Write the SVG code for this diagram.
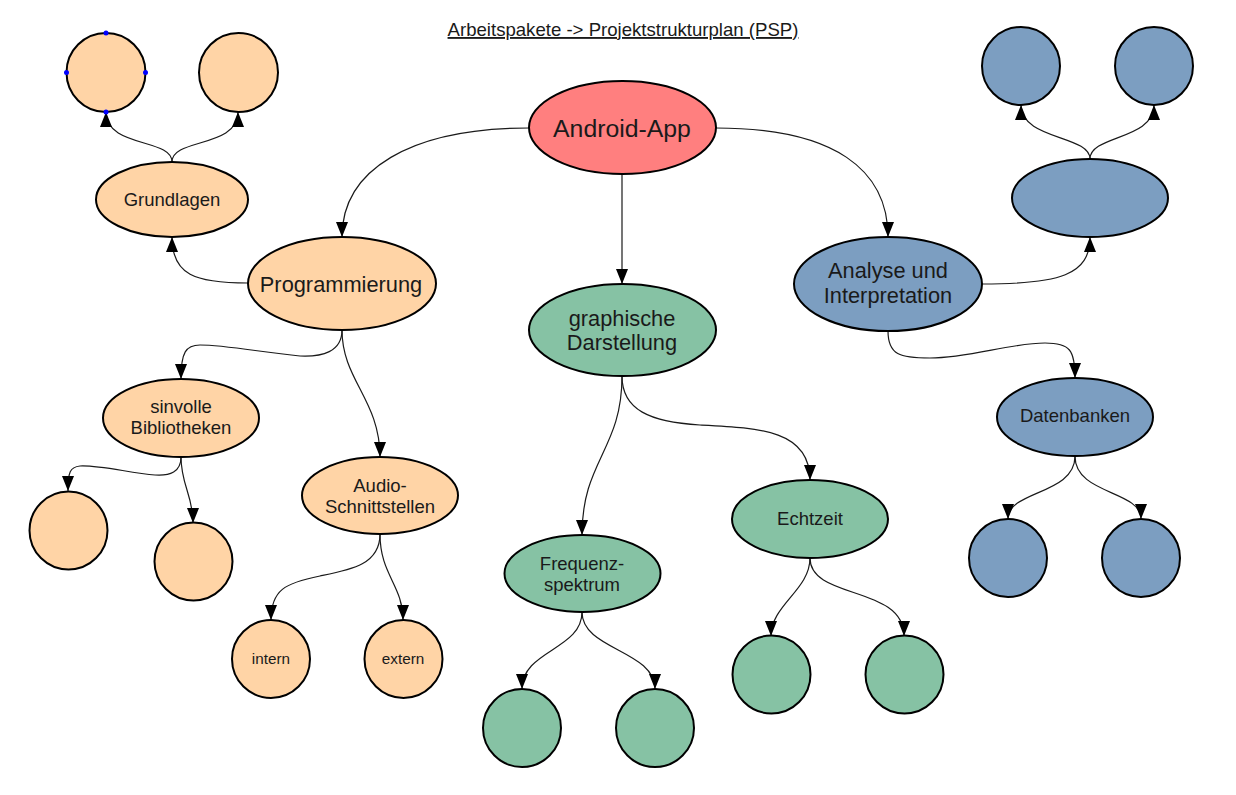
<svg xmlns="http://www.w3.org/2000/svg" width="1236" height="795" viewBox="0 0 1236 795">
<style>
.o{fill:#FFD4A6;stroke:#000;stroke-width:2}
.g{fill:#86C2A4;stroke:#000;stroke-width:2}
.b{fill:#7C9EC1;stroke:#000;stroke-width:2}
.r{fill:#FF7F7F;stroke:#000;stroke-width:2}
.c{fill:none;stroke:#1a1a1a;stroke-width:1.2;marker-end:url(#arr)}
text{font-family:"Liberation Sans",Arial,sans-serif;fill:#1a1a1a;text-anchor:middle}
.t1{font-size:24.8px}
.t2{font-size:21.8px}
.t3{font-size:18.5px}
.t4{font-size:15.3px}
.h{fill:#0000FF}
</style>
<defs>
<marker id="arr" viewBox="0 0 15 12" refX="15" refY="6" markerWidth="15" markerHeight="12" markerUnits="userSpaceOnUse" orient="auto">
<path d="M0,0 L15,6 L0,12 z" fill="#000"/>
</marker>
</defs>
<rect width="1236" height="795" fill="#fff"/>
<text id="title" x="623" y="36" style="font-size:18.6px;text-decoration:underline">Arbeitspakete -&gt; Projektstrukturplan (PSP)</text>
<g id="connectors">
<path class="c" d="M529,128 C410,128 342,170 342,237"/>
<path class="c" d="M716,128 C835,128 888,170 888,237"/>
<path class="c" d="M622,174 L622,284"/>
<path class="c" d="M248,283 C195,283 172,275 172,237"/>
<path class="c" d="M172,162 C172,138 106,148 106,112"/>
<path class="c" d="M172,162 C172,138 238,148 238,112"/>
<path class="c" d="M982,284 C1060,284 1090,275 1090,237"/>
<path class="c" d="M1090,159 C1090,135 1021,140 1021,105"/>
<path class="c" d="M1090,159 C1090,135 1154,140 1154,105"/>
<path class="c" d="M888,331 C888,355 900,358 930,358 C970,358 1010,343 1045,343 C1070,343 1075,350 1075,378"/>
<path class="c" d="M1075,456 C1075,495 1008,490 1008,519"/>
<path class="c" d="M1075,456 C1075,495 1141,490 1141,519"/>
<path class="c" d="M342,330 C342,352 322,357 300,356 C260,352 225,345 200,345 C186,345 181,352 181,379"/>
<path class="c" d="M342,330 C342,380 380,400 380,457"/>
<path class="c" d="M181,457 C181,472 170,476 155,475 C130,473 100,465 80,466 C70,467 68,472 68,491"/>
<path class="c" d="M181,457 C181,485 193,495 193,523"/>
<path class="c" d="M380,534 C380,565 350,570 320,576 C285,583 271,590 271,620"/>
<path class="c" d="M380,534 C380,575 403,585 403,620"/>
<path class="c" d="M622,376 C622,450 582,460 582,535"/>
<path class="c" d="M622,376 C622,410 650,422 700,425 C760,428 810,430 810,480"/>
<path class="c" d="M582,612 C582,650 522,650 522,689"/>
<path class="c" d="M582,612 C582,650 655,650 655,689"/>
<path class="c" d="M810,558 C810,590 771,605 771,636"/>
<path class="c" d="M810,558 C810,600 904,585 904,636"/>
</g>
<g id="android-app"><ellipse class="r" cx="622.5" cy="127.5" rx="93.5" ry="46.5"/><text class="t1" x="622" y="137">Android-App</text></g>
<g id="programmierung"><ellipse class="o" cx="342" cy="283.5" rx="94" ry="46.5"/><text class="t2" x="341" y="292">Programmierung</text></g>
<g id="grundlagen"><ellipse class="o" cx="172" cy="199.5" rx="76" ry="37.5"/><text class="t3" x="172" y="206">Grundlagen</text></g>
<g id="grundlagen-1"><circle class="o" cx="106" cy="72.5" r="39.5"/><circle class="h" cx="106" cy="33" r="2.5"/><circle class="h" cx="66.5" cy="72.5" r="2.5"/><circle class="h" cx="145.5" cy="72.5" r="2.5"/><circle class="h" cx="106" cy="112" r="2.5"/></g>
<g id="grundlagen-2"><circle class="o" cx="238.5" cy="72.5" r="39.5"/></g>
<g id="sinvolle-bibliotheken"><ellipse class="o" cx="181" cy="418" rx="78" ry="39"/><text class="t3" x="181" y="413">sinvolle</text><text class="t3" x="181" y="434">Bibliotheken</text></g>
<g id="bib-1"><circle class="o" cx="68.5" cy="530.5" r="39"/></g>
<g id="bib-2"><circle class="o" cx="193.5" cy="561.5" r="39"/></g>
<g id="audio-schnittstellen"><ellipse class="o" cx="380" cy="495.5" rx="78" ry="38.5"/><text class="t3" x="380" y="492">Audio-</text><text class="t3" x="380" y="513">Schnittstellen</text></g>
<g id="intern"><circle class="o" cx="271" cy="659" r="39"/><text class="t4" x="271" y="664">intern</text></g>
<g id="extern"><circle class="o" cx="403.5" cy="659" r="39"/><text class="t4" x="403" y="664">extern</text></g>
<g id="graphische-darstellung"><ellipse class="g" cx="622.5" cy="330" rx="93.5" ry="46"/><text class="t2" x="622" y="326">graphische</text><text class="t2" x="622" y="350">Darstellung</text></g>
<g id="frequenzspektrum"><ellipse class="g" cx="582.5" cy="573.5" rx="78" ry="38.5"/><text class="t3" x="582" y="570">Frequenz-</text><text class="t3" x="582" y="591">spektrum</text></g>
<g id="freq-1"><circle class="g" cx="522" cy="728" r="39"/></g>
<g id="freq-2"><circle class="g" cx="655" cy="728" r="39"/></g>
<g id="echtzeit"><ellipse class="g" cx="810" cy="519" rx="78" ry="39"/><text class="t3" x="810" y="525">Echtzeit</text></g>
<g id="echt-1"><circle class="g" cx="771.5" cy="674.5" r="39"/></g>
<g id="echt-2"><circle class="g" cx="904.5" cy="674.5" r="39"/></g>
<g id="analyse-interpretation"><ellipse class="b" cx="888" cy="284" rx="94" ry="47"/><text class="t2" x="888" y="278">Analyse und</text><text class="t2" x="888" y="303">Interpretation</text></g>
<g id="analyse-sub"><ellipse class="b" cx="1090" cy="198" rx="78" ry="39"/></g>
<g id="analyse-sub-1"><circle class="b" cx="1021" cy="66" r="39"/></g>
<g id="analyse-sub-2"><circle class="b" cx="1154" cy="66" r="39"/></g>
<g id="datenbanken"><ellipse class="b" cx="1075" cy="417" rx="78" ry="39"/><text class="t3" x="1075" y="422">Datenbanken</text></g>
<g id="db-1"><circle class="b" cx="1008" cy="558" r="39"/></g>
<g id="db-2"><circle class="b" cx="1141" cy="558" r="39"/></g>
</svg>
